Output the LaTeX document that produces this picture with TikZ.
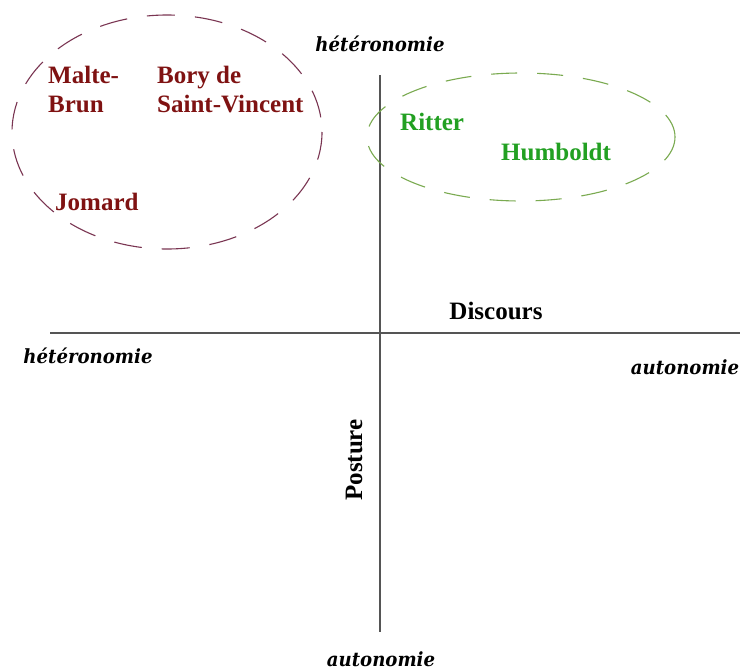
\documentclass[tikz,border=0pt]{standalone}
\usepackage{fontspec}
\setmainfont{Liberation Serif}
\newfontfamily\labfont[FakeStretch=0.93]{DejaVu Serif}
\definecolor{nmred}{HTML}{7F1212}
\definecolor{elred}{HTML}{7A3552}
\definecolor{nmgreen}{HTML}{22A022}
\definecolor{elgreen}{HTML}{7AAA50}
\definecolor{axisgray}{HTML}{555555}
\begin{document}
\begin{tikzpicture}[x=1pt,y=-1pt,
  axis/.style={draw=axisgray,line width=1.1pt},
  pole/.style={font=\labfont\bfseries\itshape\fontsize{19.5}{22}\selectfont,inner sep=0pt},
  axlabel/.style={font=\bfseries\fontsize{25}{29}\selectfont,inner sep=0pt},
  rname/.style={font=\bfseries\fontsize{25}{29}\selectfont,text=nmred,inner sep=0pt,align=left},
  gname/.style={font=\bfseries\fontsize{25}{29}\selectfont,text=nmgreen,inner sep=0pt},
  redset/.style={draw=elred,line width=1.1pt,dash pattern=on 28pt off 20pt},
  greenset/.style={draw=elgreen,line width=1.1pt,dash pattern=on 26pt off 20pt}]
\useasboundingbox[fill=white] (0,0) rectangle (745,670);
% axes
\coordinate (vtop) at (380,75);
\coordinate (vbot) at (380,632);
\coordinate (hleft) at (50,333);
\coordinate (hright) at (740,333);
\draw[axis] (vtop) -- (vbot);
\draw[axis] (hleft) -- (hright);
% pole labels
\node[pole,anchor=base] (htop) at (380,51) {hétéronomie};
\node[pole,anchor=base] (hleftlab) at (88,363) {hétéronomie};
\node[pole,anchor=base] (aright) at (685,374) {autonomie};
\node[pole,anchor=base] (abot) at (381,666) {autonomie};
% axis names
\node[axlabel,anchor=base] (disc) at (496,319) {Discours};
\node[axlabel,rotate=90,anchor=base] (post) at (362,460) {Posture};
% groups
\draw[redset] (167,132) ellipse [x radius=155, y radius=117];
\draw[greenset] (521,137) ellipse [x radius=154, y radius=64];
\node[rname,anchor=north west] (malte) at (48,66) {Malte-\\Brun};
\node[rname,anchor=north west] (bory) at (157,66) {Bory de\\Saint-Vincent};
\node[rname,anchor=base west] (jomard) at (55,210) {Jomard};
\node[gname,anchor=base west] (ritter) at (400,130) {Ritter};
\node[gname,anchor=base west] (humboldt) at (501,160) {Humboldt};
\end{tikzpicture}
\end{document}
